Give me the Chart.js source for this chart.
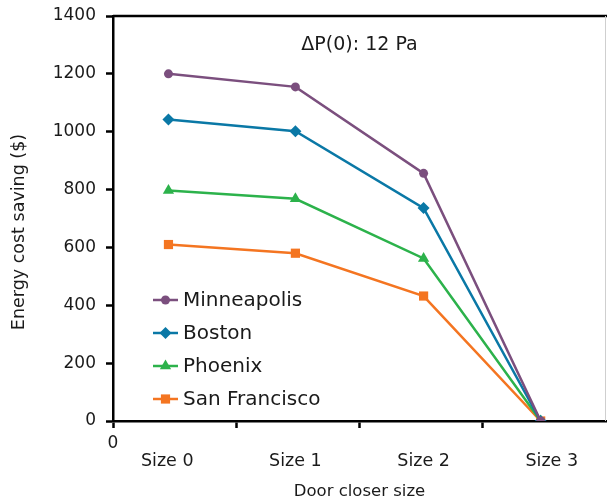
<!DOCTYPE html>
<html>
<head>
<meta charset="utf-8">
<script src="https://cdn.jsdelivr.net/npm/chart.js@4.4.1/dist/chart.umd.min.js"></script>
<style>
  html, body { margin: 0; padding: 0; background: #fff; }
  canvas { display: block; }
</style>
</head>
<body>
<canvas id="chart" width="607" height="504"></canvas>
<script>
// categories and where they sit on the 0..4 x axis
const sizes = ['Size 0', 'Size 1', 'Size 2', 'Size 3'];
const pointX = [0.45, 1.48, 2.52, 3.47];
const labelX = [0.44, 1.48, 2.52, 3.56];
const xTicks = [0, 1, 2, 3];

// energy cost saving ($)
const minneapolis = [1200, 1155, 856, 0];
const boston = [1042, 1002, 736, 0];
const phoenix = [797, 768, 562, 0];
const sanFrancisco = [610, 580, 432, 0];

const yTicks = [0, 200, 400, 600, 800, 1000, 1200, 1400];
const noteText = '\u0394P(0): 12 Pa';
const yTitle = 'Energy cost saving ($)';
const xTitle = 'Door closer size';

const FONT = '"DejaVu Sans"';
const TEXT = '#1a1a1a';

function pts(vals) {
  return vals.map((v, i) => ({ x: pointX[i], y: v }));
}

function series(label, vals, color, style, radius) {
  return {
    label: label,
    data: pts(vals),
    borderColor: color,
    backgroundColor: color,
    borderWidth: 2.5,
    pointStyle: style,
    pointRadius: radius,
    pointBorderWidth: 0,
    pointBackgroundColor: color,
    tension: 0
  };
}

const datasets = [
  series('Minneapolis', minneapolis, '#7b4f7e', 'circle', 4.5),
  series('Boston', boston, '#0a78a6', 'rectRot', 6),
  series('Phoenix', phoenix, '#2cb24b', 'triangle', 6.5),
  series('San Francisco', sanFrancisco, '#f47521', 'rect', 6.5)
];

// drop the label overflow padding so the plot box sits where the layout padding says
function noPad(s) {
  s.paddingTop = 0;
  s.paddingBottom = 0;
  s.paddingLeft = 0;
  s.paddingRight = 0;
}

const extras = {
  id: 'extras',
  beforeDatasetsDraw(chart) {
    const { ctx, chartArea: a } = chart;
    ctx.save();
    ctx.strokeStyle = '#000';
    ctx.lineWidth = 2.5;
    ctx.beginPath();
    ctx.moveTo(a.left, a.top);
    ctx.lineTo(chart.width, a.top);
    ctx.stroke();
    ctx.strokeStyle = '#cfcfcf';
    ctx.lineWidth = 1;
    ctx.beginPath();
    ctx.moveTo(a.right - 0.5, a.top);
    ctx.lineTo(a.right - 0.5, a.bottom);
    ctx.stroke();
    ctx.restore();
  },
  afterDraw(chart) {
    const { ctx, chartArea: a, scales } = chart;
    ctx.save();
    ctx.fillStyle = TEXT;
    ctx.font = '19px ' + FONT;
    ctx.textAlign = 'center';
    ctx.textBaseline = 'middle';
    ctx.fillText(noteText, scales.x.getPixelForValue(2), scales.y.getPixelForValue(1300));

    // legend inside plot
    ctx.textAlign = 'left';
    ctx.font = '20px ' + FONT;
    chart.data.datasets.forEach((ds, i) => {
      const y = a.top + 284 + i * 33;
      const x0 = a.left + 40;
      ctx.strokeStyle = ds.borderColor;
      ctx.lineWidth = 2.5;
      ctx.beginPath();
      ctx.moveTo(x0, y);
      ctx.lineTo(x0 + 25, y);
      ctx.stroke();
      ctx.fillStyle = ds.borderColor;
      Chart.helpers.drawPoint(ctx, { pointStyle: ds.pointStyle, radius: ds.pointRadius, borderWidth: 0 }, x0 + 12.5, y);
      ctx.fillStyle = TEXT;
      ctx.fillText(ds.label, x0 + 30, y + 1);
    });

    // y title
    ctx.translate(19, 232);
    ctx.rotate(-Math.PI / 2);
    ctx.textAlign = 'center';
    ctx.font = '17.5px ' + FONT;
    ctx.fillText(yTitle, 0, 0);
    ctx.restore();
  }
};

new Chart(document.getElementById('chart'), {
  type: 'line',
  data: { datasets: datasets },
  options: {
    responsive: false,
    animation: false,
    layout: { autoPadding: false, padding: { top: 16, right: 1, left: 0, bottom: 0 } },
    plugins: { legend: { display: false }, tooltip: { enabled: false } },
    scales: {
      x: {
        type: 'linear',
        position: 'bottom',
        min: 0,
        max: 4,
        afterFit: s => { s.height = 30; noPad(s); },
        afterBuildTicks: s => { s.ticks = xTicks.map(v => ({ value: v })); },
        ticks: {
          color: TEXT,
          font: { family: FONT, size: 17 },
          padding: 5,
          maxRotation: 0,
          autoSkip: false,
          callback: v => v === 0 ? '0' : ''
        },
        grid: { drawOnChartArea: false, tickLength: 7, tickWidth: 2.5, color: '#000' },
        border: { color: '#000', width: 2.5 }
      },
      x2: {
        type: 'linear',
        position: 'bottom',
        min: 0,
        max: 4,
        afterFit: s => { s.height = 53; noPad(s); },
        afterBuildTicks: s => { s.ticks = labelX.map(v => ({ value: v })); },
        ticks: {
          color: TEXT,
          font: { family: FONT, size: 17.5 },
          padding: 0,
          maxRotation: 0,
          autoSkip: false,
          callback: (v, i) => sizes[i]
        },
        grid: { display: false, drawTicks: false },
        border: { display: false },
        title: {
          display: true,
          text: xTitle,
          color: TEXT,
          font: { family: FONT, size: 16.5 },
          padding: { top: 4, bottom: 2 }
        }
      },
      y: {
        min: 0,
        max: 1400,
        afterFit: s => { s.width = 113; noPad(s); },
        afterBuildTicks: s => { s.ticks = yTicks.map(v => ({ value: v })); },
        ticks: {
          color: TEXT,
          font: { family: FONT, size: 17 },
          padding: 10,
          callback: v => String(v)
        },
        grid: { drawOnChartArea: false, tickLength: 7, tickWidth: 2.5, color: '#000' },
        border: { color: '#000', width: 2.5 }
      }
    }
  },
  plugins: [extras]
});
</script>
</body>
</html>
